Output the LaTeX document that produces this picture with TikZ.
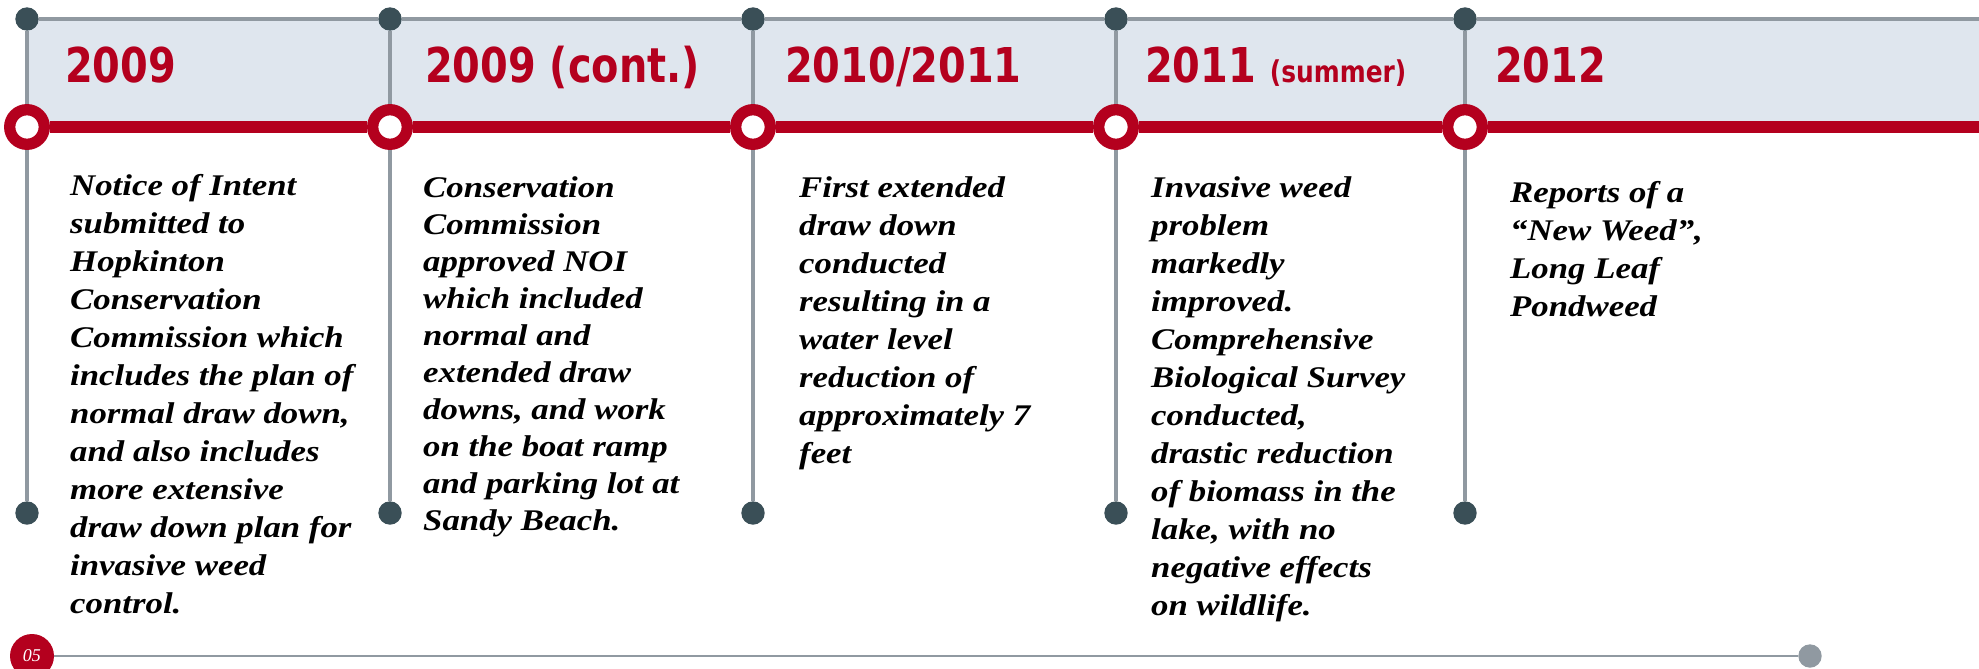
\documentclass[tikz,border=0pt]{standalone}
\usepackage{fontspec}
\setmainfont{Liberation Serif}
\newfontfamily\bodyfont[FakeStretch=1.16]{Liberation Serif}
\newfontfamily\yearfont[FakeStretch=0.83]{DejaVu Sans}
\definecolor{tred}{HTML}{B4001E}
\definecolor{dotc}{HTML}{3A4F57}
\definecolor{lgray}{HTML}{9099A1}
\definecolor{band}{HTML}{DFE6EE}
\begin{document}
\begin{tikzpicture}[x=1pt,y=-1pt,
  dot/.style={circle,fill=dotc,minimum size=23.4pt,inner sep=0pt,outer sep=0pt},
  ring/.style={circle,draw=tred,line width=11.3pt,fill=white,minimum size=34.6pt,inner sep=0pt},
  gline/.style={draw=lgray,line width=3.5pt},
  rline/.style={draw=tred,line width=12.7pt},
  year/.style={anchor=base west,inner sep=0pt,text=tred,font=\yearfont\bfseries\fontsize{48}{50}\selectfont},
  body/.style={anchor=base west,inner sep=0pt,align=left,font=\bodyfont\bfseries\itshape\fontsize{30}{38}\selectfont}]
\useasboundingbox (0,0) rectangle (1979,669);
\fill[band] (27,19) rectangle (1979,127);
% top dots, rings, bottom dots
\foreach \i/\x in {1/27,2/390,3/753,4/1116,5/1465}{
  \node[dot] (t\i) at (\x,19) {};
  \node[ring] (r\i) at (\x,127) {};
  \node[dot] (b\i) at (\x,513) {};
}
\coordinate (tend) at (1979,19);
\coordinate (rend) at (1979,127);
% lines
\draw[gline] (t1) -- (t2) -- (t3) -- (t4) -- (t5) -- (tend);
\foreach \i in {1,...,5}{
  \draw[gline] (t\i) -- (r\i);
  \draw[gline] (r\i) -- (b\i);
}
\draw[rline] (r1) -- (r2);
\draw[rline] (r2) -- (r3);
\draw[rline] (r3) -- (r4);
\draw[rline] (r4) -- (r5);
\draw[rline] (r5) -- (rend);
% years
\node[year] (y1) at (65,82) {2009};
\node[year] (y2) at (425,82) {2009 (cont.)};
\node[year] (y3) at (785,82) {2010/2011};
\node[year] (y4) at (1145,82) {2011 {\fontsize{30}{32}\selectfont(summer)}};
\node[year] (y5) at (1495,82) {2012};
% texts (anchored at the baseline of the last line)
\node[body] (d1) at (70,613) {Notice of Intent\\submitted to\\Hopkinton\\Conservation\\Commission which\\includes the plan of\\normal draw down,\\and also includes\\more extensive\\draw down plan for\\invasive weed\\control.};
\node[body,font=\bodyfont\bfseries\itshape\fontsize{30}{37}\selectfont] (d2) at (423,530) {Conservation\\Commission\\approved NOI\\which included\\normal and\\extended draw\\downs, and work\\on the boat ramp\\and parking lot at\\Sandy Beach.};
\node[body] (d3) at (799,463) {First extended\\draw down\\conducted\\resulting in a\\water level\\reduction of\\approximately 7\\feet};
\node[body] (d4) at (1151,615) {Invasive weed\\problem\\markedly\\improved.\\Comprehensive\\Biological Survey\\conducted,\\drastic reduction\\of biomass in the\\lake, with no\\negative effects\\on wildlife.};
\node[body] (d5) at (1510,316) {Reports of a\\“New Weed”,\\Long Leaf\\Pondweed};
% footer
\node[circle,fill=tred,minimum size=44pt,inner sep=0pt,text=white,font=\itshape\fontsize{18}{20}\selectfont] (pg) at (32,656) {05};
\node[circle,fill=lgray,minimum size=23.4pt,inner sep=0pt] (pend) at (1810,656) {};
\draw[draw=lgray,line width=2.3pt] (pg) -- (pend);
\end{tikzpicture}
\end{document}
